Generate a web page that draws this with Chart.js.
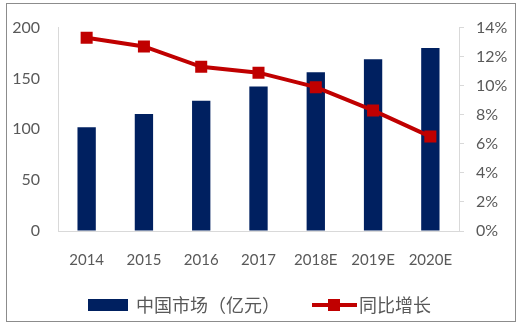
<!DOCTYPE html>
<html>
<head>
<meta charset="utf-8">
<script src="https://cdn.jsdelivr.net/npm/chart.js@4"></script>
<style>
  body { margin: 0; background: #fff; }
</style>
</head>
<body>
<canvas id="marketChart" width="528" height="325"></canvas>
<script>
// market size (100M yuan) and year-on-year growth
const years = ['2014', '2015', '2016', '2017', '2018E', '2019E', '2020E'];
const marketSize = [102, 115, 128, 142, 156, 169, 180];
const growth = [0.133, 0.127, 0.113, 0.109, 0.099, 0.083, 0.065];

const barLabel = '中国市场（亿元）';
const lineLabel = '同比增长';

const navy = '#002060';
const red = '#C00000';
const textGray = '#595959';
const axisGray = '#D9D9D9';
const latin = 'Lato, "Noto Sans", sans-serif';
const cjk = '"Noto Sans CJK SC", "Noto Sans", sans-serif';

// legend swatches: drawn wider than the box so they sit close to the text
function barSwatch() {
    const c = document.createElement('canvas');
    c.width = 52; c.height = 12;
    const g = c.getContext('2d');
    g.fillStyle = navy;
    g.fillRect(10, 0, 40, 12);
    return c;
}
function lineSwatch() {
    const c = document.createElement('canvas');
    c.width = 62; c.height = 14;
    const g = c.getContext('2d');
    g.fillStyle = red;
    g.fillRect(16, 5, 45, 4);
    g.fillRect(32, 1, 12, 12);
    return c;
}

// gray frame around the whole figure
const framePlugin = {
    id: 'frame',
    afterDraw(chart) {
        const ctx = chart.ctx;
        ctx.save();
        ctx.strokeStyle = '#8C8C8C';
        ctx.lineWidth = 1;
        ctx.strokeRect(6.5, 3.5, 509, 318);
        ctx.restore();
    }
};

const ctx = document.getElementById('marketChart').getContext('2d');
const marketChart = new Chart(ctx, {
    type: 'bar',
    data: {
        labels: years,
        datasets: [{
            type: 'bar',
            label: barLabel,
            data: marketSize,
            backgroundColor: navy,
            yAxisID: 'y',
            categoryPercentage: 1,
            barPercentage: 0.32,
            order: 2
        }, {
            type: 'line',
            label: lineLabel,
            data: growth,
            borderColor: red,
            backgroundColor: red,
            borderWidth: 4,
            pointStyle: 'rect',
            pointRadius: 8.5,
            pointHoverRadius: 8.5,
            pointBorderWidth: 0,
            tension: 0,
            yAxisID: 'y1',
            order: 1
        }]
    },
    options: {
        responsive: false,
        animation: false,
        layout: {
            padding: { left: 0, right: 16, top: 21, bottom: 1 }
        },
        scales: {
            x: {
                grid: { display: false, drawTicks: false },
                border: { color: axisGray, width: 1 },
                ticks: {
                    color: textGray,
                    padding: 20,
                    maxRotation: 0,
                    autoSkip: false,
                    font: { family: latin, size: 15 }
                },
                afterFit(scale) { scale.height = 41; }
            },
            y: {
                position: 'left',
                min: 0,
                max: 200,
                grid: { drawOnChartArea: false, drawTicks: false },
                border: { color: axisGray, width: 1 },
                ticks: {
                    stepSize: 50,
                    color: textGray,
                    padding: 18,
                    font: { family: latin, size: 16 }
                },
                afterFit(scale) { scale.width = 58; }
            },
            y1: {
                position: 'right',
                min: 0,
                max: 0.14,
                grid: { drawOnChartArea: false, color: axisGray, tickLength: 5 },
                border: { color: axisGray, width: 1 },
                ticks: {
                    stepSize: 0.02,
                    color: textGray,
                    padding: 12,
                    font: { family: latin, size: 16 },
                    callback: v => Math.round(v * 100) + '%'
                },
                afterFit(scale) { scale.width = 53; }
            }
        },
        plugins: {
            tooltip: { enabled: false },
            legend: {
                position: 'bottom',
                labels: {
                    color: textGray,
                    usePointStyle: true,
                    pointStyleWidth: 46,
                    padding: 24,
                    font: { family: cjk, size: 18 },
                    generateLabels: () => [
                        { text: barLabel, pointStyle: barSwatch(), fontColor: textGray, datasetIndex: 0, lineWidth: 0 },
                        { text: lineLabel, pointStyle: lineSwatch(), fontColor: textGray, datasetIndex: 1, lineWidth: 0 }
                    ]
                }
            }
        }
    },
    plugins: [framePlugin]
});
</script>
</body>
</html>
